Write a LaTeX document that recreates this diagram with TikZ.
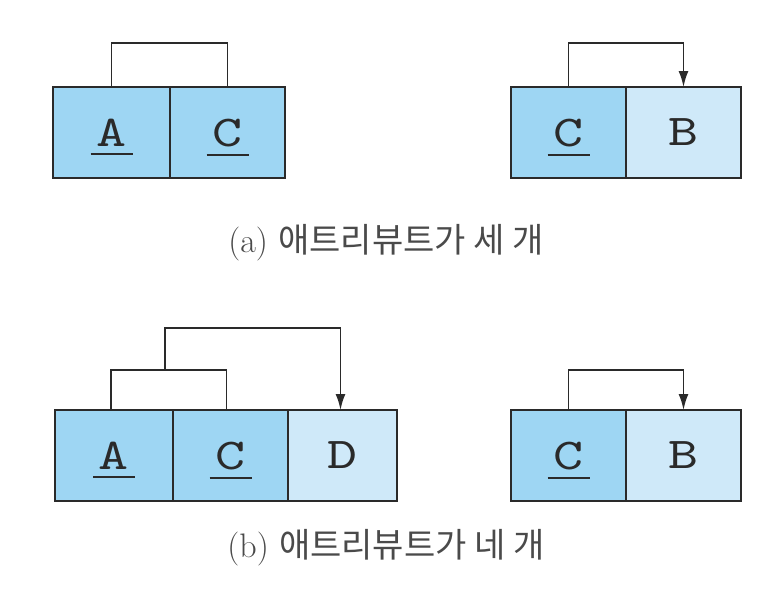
\documentclass[tikz,border=0pt]{standalone}
\usepackage{fontspec}
\newfontfamily\krfont{Noto Sans CJK KR}
\newfontfamily\ttwide{lmmono10-regular.otf}[FakeStretch=1.3]
\usetikzlibrary{arrows.meta,calc}
\definecolor{keyblue}{HTML}{9ED6F3}
\definecolor{attblue}{HTML}{CFE9F9}
\definecolor{ink}{HTML}{2A2A2A}
\definecolor{captink}{HTML}{4A4A4A}
\newcommand{\keyul}[1]{\raisebox{0pt}[\height][0pt]{\vtop{\hbox to 21pt{\hss#1\hss}\kern3.6pt\hrule height 1pt}}}
\tikzset{
  cell/.style={draw=ink, line width=1.1pt, minimum height=45.5pt, inner sep=0pt, outer sep=0pt,
    text=ink, font=\ttwide\fontsize{22}{26}\selectfont},
  keycell/.style={cell, fill=keyblue},
  attcell/.style={cell, fill=attblue},
  link/.style={draw=ink, line width=0.9pt},
  arr/.style={link, -{Latex[length=8pt,width=5pt]}},
  caption/.style={text=captink, font=\fontsize{17}{20}\selectfont}
}
\begin{document}
\begin{tikzpicture}[x=0.5pt,y=-0.5pt]
\useasboundingbox (0,0) rectangle (772,600);
% (a) left
\node[keycell, minimum width=58.5pt] (A1) at (111.5,132.5) {\keyul{A}};
\node[keycell, minimum width=57.5pt, anchor=west] (C1) at (A1.east) {\keyul{C}};
\draw[link] (A1.north) -- ++(0,-44) -| (C1.north);
% (a) right
\node[keycell, minimum width=57.5pt] (C2) at (568.5,132.5) {\keyul{C}};
\node[attcell, minimum width=57.5pt, anchor=west] (B2) at (C2.east) {B};
\draw[arr] (C2.north) -- ++(0,-44) -| (B2.north);
\node[caption] (capA) at (386,243) {(a) {\krfont 애트리뷰트가 세 개}};
% (b) left
\node[keycell, minimum width=59pt] (A3) at (114,455.5) {\keyul{A}};
\node[keycell, minimum width=57.5pt, anchor=west] (C3) at (A3.east) {\keyul{C}};
\node[attcell, minimum width=54.5pt, anchor=west] (D3) at (C3.east) {D};
\draw[link] ([xshift=-1.5pt]A3.north) -- ++(0,-40) coordinate (s1) -| ([xshift=-2pt]C3.north);
\path ([xshift=-2pt]C3.north) ++(0,-40) coordinate (s2);
\coordinate (m) at ($(s1)!0.47!(s2)$);
\draw[arr] (m) -- ++(0,-42) -| ([xshift=-1pt]D3.north);
% (b) right
\node[keycell, minimum width=57.5pt] (C4) at (568.5,455.5) {\keyul{C}};
\node[attcell, minimum width=57.5pt, anchor=west] (B4) at (C4.east) {B};
\draw[arr] (C4.north) -- ++(0,-40) -| (B4.north);
\node[caption] (capB) at (386,548) {(b) {\krfont 애트리뷰트가 네 개}};
\end{tikzpicture}
\end{document}
